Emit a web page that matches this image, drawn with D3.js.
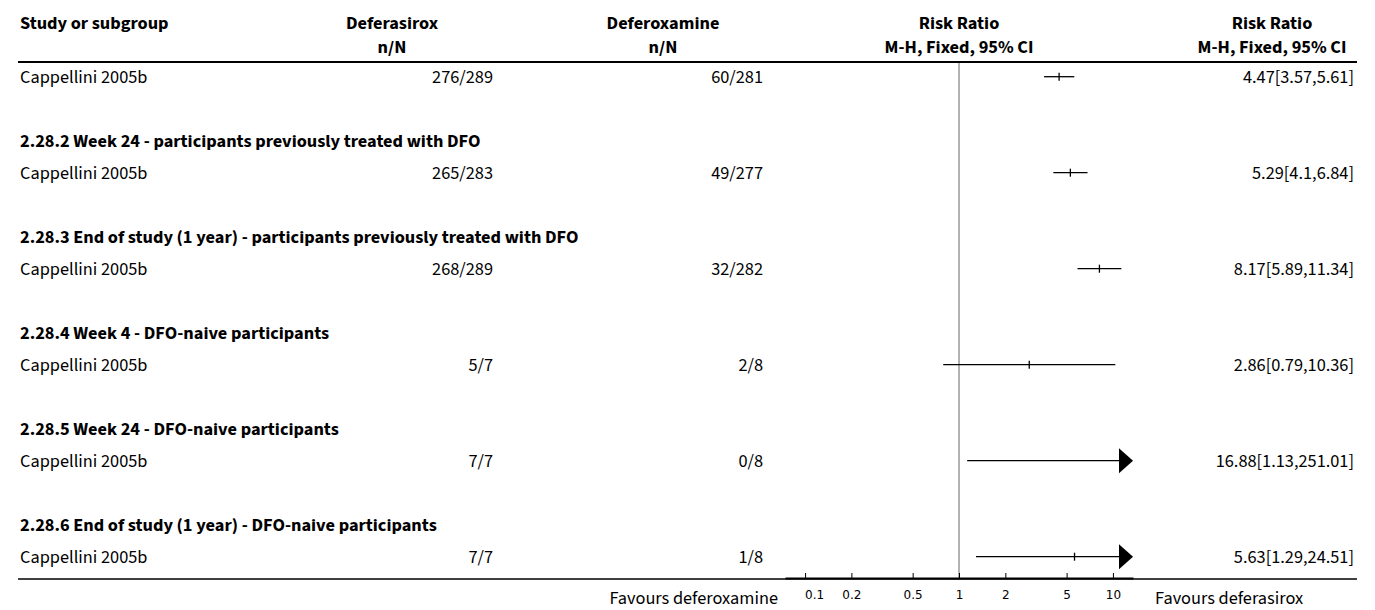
<!DOCTYPE html>
<html><head><meta charset="utf-8">
<script src="https://cdn.jsdelivr.net/npm/d3@7"></script>
<style>body{margin:0;background:#fff}svg{display:block}</style>
</head><body>
<script>
// ---- data ----
const rowKinds = ["study","blank","group","study","blank","group","study","blank","group","study","blank","group","study","blank","group","study"];
const groupLabels = ["2.28.2 Week 24 - participants previously treated with DFO","2.28.3 End of study (1 year) - participants previously treated with DFO","2.28.4 Week 4 - DFO-naive participants","2.28.5 Week 24 - DFO-naive participants","2.28.6 End of study (1 year) - DFO-naive participants"];
const studyNames = ["Cappellini 2005b","Cappellini 2005b","Cappellini 2005b","Cappellini 2005b","Cappellini 2005b","Cappellini 2005b"];
const deferasirox = ["276/289","265/283","268/289","5/7","7/7","7/7"];
const deferoxamine = ["60/281","49/277","32/282","2/8","0/8","1/8"];
const rr = [4.47,5.29,8.17,2.86,16.88,5.63];
const lo = [3.57,4.1,5.89,0.79,1.13,1.29];
const hi = [5.61,6.84,11.34,10.36,251.01,24.51];
const rrText = ["4.47[3.57,5.61]","5.29[4.1,6.84]","8.17[5.89,11.34]","2.86[0.79,10.36]","16.88[1.13,251.01]","5.63[1.29,24.51]"];
const tickValues = [0.1,0.2,0.5,1,2,5,10];
const tickLabels = ["0.1","0.2","0.5","1","2","5","10"];

const W=1375,H=610;
const font="'Source Sans Pro','Source Sans 3',Lato,sans-serif";
const svg=d3.select("body").append("svg").attr("width",W).attr("height",H).style("font-family",font);

const x=d3.scaleLog().domain([1/13.5,13.5]).range([785,1133]);
const y=d3.scaleLinear().domain([0,15]).range([76.7,556.7]);
const fs=18.3;

// headers
const hdr=svg.append("g").attr("font-weight","bold").attr("font-size",fs).attr("fill","#000");
hdr.append("text").attr("x",20).attr("y",29).text("Study or subgroup");
[["Deferasirox",392],["Deferoxamine",663],["Risk Ratio",x(1)],["Risk Ratio",1272]].forEach(([t,px],i)=>{
  hdr.append("text").attr("x",px).attr("y",29).attr("text-anchor","middle").text(t);
  hdr.append("text").attr("x",px).attr("y",53).attr("text-anchor","middle").text(i<2?"n/N":"M-H, Fixed, 95% CI");
});

svg.append("line").attr("x1",18).attr("x2",1357).attr("y1",62).attr("y2",62).attr("stroke","#000").attr("stroke-width",2);

// null line
svg.append("line").attr("x1",x(1)).attr("x2",x(1)).attr("y1",63).attr("y2",578).attr("stroke","#999").attr("stroke-width",1.5);

// rows
let gi=0, si=0;
const [xmin,xmax]=x.range();
rowKinds.forEach((k,i)=>{
  const cy=y(i);
  if(k==="group"){
    svg.append("text").attr("x",20).attr("y",cy+6).attr("font-weight","bold").attr("font-size",fs).text(groupLabels[gi++]);
  } else if(k==="study"){
    const j=si++;
    svg.append("text").attr("x",20).attr("y",cy+6).attr("font-size",fs).text(studyNames[j]);
    svg.append("text").attr("x",493).attr("y",cy+6).attr("font-size",fs).attr("text-anchor","end").text(deferasirox[j]);
    svg.append("text").attr("x",763).attr("y",cy+6).attr("font-size",fs).attr("text-anchor","end").text(deferoxamine[j]);
    svg.append("text").attr("x",1354).attr("y",cy+6).attr("font-size",fs).attr("text-anchor","end").text(rrText[j]);
    const clipHi=hi[j]>x.domain()[1];
    const x1=x(Math.max(lo[j],x.domain()[0]));
    const x2=clipHi? xmax-14 : x(hi[j]);
    svg.append("line").attr("x1",x1).attr("x2",x2).attr("y1",cy).attr("y2",cy).attr("stroke","#000").attr("stroke-width",1.3);
    if(clipHi){
      svg.append("path").attr("d",`M${xmax-14},${cy-12.5}L${xmax},${cy}L${xmax-14},${cy+12.5}Z`).attr("fill","#000");
    }
    if(rr[j]<=x.domain()[1]){
      svg.append("line").attr("x1",x(rr[j])).attr("x2",x(rr[j])).attr("y1",cy-4).attr("y2",cy+4).attr("stroke","#000").attr("stroke-width",1.3);
    }
  }
});

// bottom line + axis
svg.append("line").attr("x1",18).attr("x2",1357).attr("y1",579).attr("y2",579).attr("stroke","#000").attr("stroke-width",1.5);
const ax=d3.axisBottom(x).tickValues(tickValues).tickFormat((d,i)=>tickLabels[i]).tickSizeInner(-5).tickSizeOuter(0).tickPadding(12.5);
const axg=svg.append("g").attr("transform","translate(0,578)").call(ax);
axg.select(".domain").attr("stroke","#000").attr("stroke-width",2);
axg.selectAll(".tick line").attr("stroke","#000");
axg.selectAll(".tick text").attr("font-family","'DejaVu Sans',sans-serif").attr("font-size",12).attr("fill","#000");
axg.selectAll(".tick text").filter((d,i)=>i===0).attr("dx",9);

svg.append("text").attr("x",778).attr("y",604).attr("text-anchor","end").attr("font-size",fs).text("Favours deferoxamine");
svg.append("text").attr("x",1155).attr("y",604).attr("font-size",fs).text("Favours deferasirox");
</script>
</body></html>
